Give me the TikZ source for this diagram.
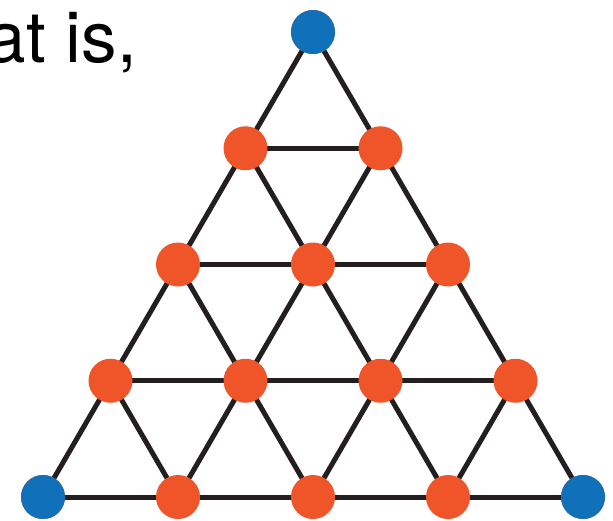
\documentclass[tikz,border=0pt]{standalone}
\usepackage{fontspec}
\setmainfont{TeX Gyre Heros}
\usetikzlibrary{backgrounds}
\definecolor{cornerblue}{HTML}{1070BA}
\definecolor{gridorange}{HTML}{F0552A}
\definecolor{edgedark}{HTML}{231F20}
\tikzset{
  site/.style={circle, fill=gridorange, minimum size=44pt, inner sep=0pt},
  corner/.style={site, fill=cornerblue},
  bond/.style={edgedark, line width=5pt}
}

\begin{document}
\begin{tikzpicture}[x=1pt,y=-1pt]
\useasboundingbox (0,0) rectangle (613,520);
\clip (0,0) rectangle (613,520);
\node[anchor=base east, inner sep=0pt, font=\fontsize{71}{71}\selectfont] (caption) at (137,62) {at is,};
% lattice sites
\foreach \i in {0,...,4}{
  \foreach \j in {0,...,\i}{
    \node[site] (n-\i-\j) at ({313+(2*\j-\i)*67.5},{32+\i*116.25}) {};
  }
}
\node[corner] at (n-0-0) {};
\node[corner] at (n-4-0) {};
\node[corner] at (n-4-4) {};
% bonds
\begin{scope}[on background layer]
\foreach \i in {0,...,3}{
  \pgfmathtruncatemacro\k{\i+1}
  \foreach \j in {0,...,\i}{
    \pgfmathtruncatemacro\l{\j+1}
    \draw[bond] (n-\i-\j.center) -- (n-\k-\j.center);
    \draw[bond] (n-\i-\j.center) -- (n-\k-\l.center);
    \draw[bond] (n-\k-\j.center) -- (n-\k-\l.center);
  }
}
\end{scope}
\end{tikzpicture}
\end{document}
